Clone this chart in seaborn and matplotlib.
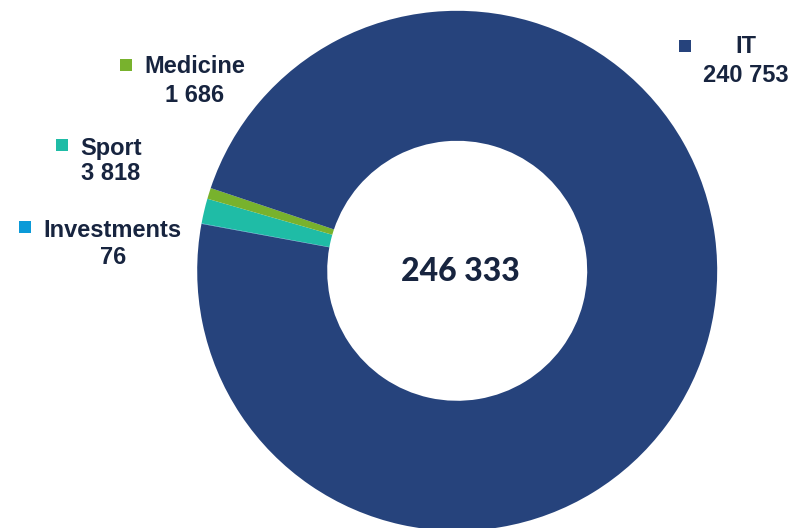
import matplotlib
matplotlib.use("Agg")
import matplotlib.pyplot as plt
import seaborn as sns

# Sector totals
categories = ["Investments", "Sport", "Medicine", "IT"]
values = [76, 3818, 1686, 240753]
value_labels = ["76", "3 818", "1 686", "240 753"]
total_label = "246 333"
colors = ["#0b9ad8", "#1fbca6", "#78b22d", "#26437c"]
text_color = "#17243f"

sns.set_theme(style="white")
plt.rcParams["font.family"] = ["Liberation Sans", "DejaVu Sans"]

W, H = 794, 528
fig = plt.figure(figsize=(W / 100, H / 100), dpi=100)
ax = fig.add_axes([0, 0, 1, 1])

cx, cy, r = 457.2, H - 270.8, 260
ax.pie(values, colors=colors, startangle=169.6, counterclock=False,
       center=(cx, cy), radius=r, frame=True,
       wedgeprops=dict(width=r * 0.5, linewidth=0))
ax.set_xlim(0, W)
ax.set_ylim(0, H)
ax.set_aspect("equal")
ax.axis("off")

ax.text(cx + 3, cy - 1, total_label, ha="center", va="center",
        fontsize=23, fontweight=900, color=text_color,
        family=["Lato", "DejaVu Sans"])

# label layout: marker centre, text centre x, first/second baseline (from top)
layout = {
    "Investments": ((25.3, 227.2), 112.8, 236.7, 264.0),
    "Sport": ((61.5, 144.7), 110.8, 155.0, 180.5),
    "Medicine": ((126.3, 64.5), 195.0, 73.3, 102.3),
    "IT": ((684.5, 45.5), 746.0, 53.3, 81.7),
}
for cat, val, col in zip(categories, value_labels, colors):
    (mx, my), tx, b1, b2 = layout[cat]
    ax.scatter([mx], [H - my], marker="s", s=82, color=col, linewidths=0)
    ax.text(tx, H - b1, cat, ha="center", va="baseline", fontsize=17,
            fontweight="bold", color=text_color)
    ax.text(tx, H - b2, val, ha="center", va="baseline", fontsize=17,
            fontweight="bold", color=text_color)

fig.savefig("out.png", dpi=100)
